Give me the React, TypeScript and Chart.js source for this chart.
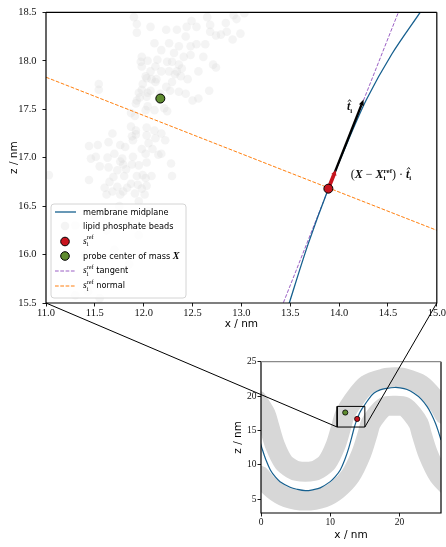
import React, { useEffect, useRef } from "react";
import { Chart, registerables } from "chart.js";
Chart.register(...registerables);

// ---------------- data ----------------
const MAIN_X_RANGE = [11.0, 15.0];
const MAIN_Y_RANGE = [15.5, 18.5];
const MAIN_X_TICKS = [11.0, 11.5, 12.0, 12.5, 13.0, 13.5, 14.0, 14.5, 15.0];
const MAIN_Y_TICKS = [15.5, 16.0, 16.5, 17.0, 17.5, 18.0, 18.5];
const INSET_X_RANGE = [0, 26];
const INSET_Y_RANGE = [3, 25];
const INSET_X_TICKS = [0, 10, 20];
const INSET_Y_TICKS = [5, 10, 15, 20, 25];

// lipid phosphate beads seen in the zoomed view (x, z in nm)
const BEADS = [
  [11.90,18.45],[11.93,18.38],[11.93,18.29],[11.98,18.04],[11.97,17.99],[11.98,17.94],[12.04,18.00],[12.03,17.82],
  [11.99,17.76],[11.98,17.70],[12.04,17.67],[11.54,17.76],[11.54,17.70],[11.93,17.59],[11.96,17.62],[12.03,17.63],
  [12.04,17.53],[11.87,17.46],[11.91,17.43],[11.87,17.32],[12.03,17.31],[11.68,17.25],[11.88,17.22],[11.92,17.24],
  [11.89,17.18],[11.64,17.16],[11.44,17.12],[11.53,17.13],[11.76,17.13],[11.81,17.11],[11.98,17.09],[11.70,17.04],
  [11.51,17.01],[11.46,16.99],[11.63,17.00],[11.78,16.99],[11.89,17.01],[12.02,17.04],[11.55,16.91],[11.64,16.90],
  [11.76,16.96],[11.79,16.93],[11.73,16.87],[11.82,16.88],[11.88,16.93],[11.95,16.92],[12.03,16.95],[12.09,17.09],
  [12.18,17.04],[12.28,16.94],[11.99,16.82],[12.02,16.79],[12.08,16.81],[11.93,16.81],[11.80,16.81],[11.69,16.80],
  [11.65,16.75],[11.60,16.69],[11.62,16.62],[11.68,16.65],[11.73,16.70],[11.79,16.65],[11.83,16.69],[11.87,16.73],
  [11.91,16.63],[11.94,16.72],[11.98,16.68],[12.03,16.71],[11.44,16.77],[11.03,16.82],[12.29,16.81],[11.76,16.62],
  [12.01,16.62],
  [12.07,18.35],[12.11,18.18],[12.23,18.32],[12.34,18.32],[12.44,18.35],[12.49,18.41],[12.54,18.35],[12.65,18.45],
  [12.68,18.37],[12.68,18.30],[12.74,18.26],[12.79,18.27],[12.84,18.39],[12.85,18.30],[12.91,18.22],[12.92,18.47],
  [12.95,18.43],[12.99,18.28],[13.03,18.49],[12.43,18.25],[12.48,18.15],[12.54,18.17],[12.63,18.17],[12.18,18.11],
  [12.26,18.18],[12.31,18.08],[12.36,18.15],[12.41,18.04],[12.48,18.06],[12.61,18.04],[12.29,17.99],[12.36,17.96],
  [12.39,17.92],[12.34,17.89],[12.24,17.99],[12.14,18.01],[12.12,17.94],[12.07,17.89],[12.18,17.89],[12.26,17.89],
  [12.32,17.86],[12.38,17.84],[12.45,17.81],[12.56,17.89],[12.71,17.96],[12.74,17.93],[12.02,17.84],[12.08,17.81],
  [12.13,17.81],[12.12,17.78],[12.23,17.73],[12.29,17.78],[12.07,17.69],[12.17,17.66],[12.27,17.69],[12.36,17.68],
  [12.43,17.66],[12.50,17.59],[12.56,17.61],[12.67,17.69],[11.95,17.67],[11.92,17.56],[12.02,17.49],[12.11,17.49],
  [12.21,17.51],[12.24,17.48],[11.92,17.28],[12.11,17.28],[12.18,17.25],[12.05,17.15],[12.03,17.23],[12.12,17.20],
  [12.22,17.18],[12.15,17.03],
  [11.30,15.58],[11.43,15.62],[11.55,15.55],[11.50,16.40],[11.62,16.25],[11.75,16.50],[11.85,16.35],[11.95,16.55],
  [11.70,16.05],[11.85,15.90],[11.60,15.80],[11.95,16.20],[12.05,16.45],[11.40,16.00],[11.30,16.30],
];

// membrane midplane in the zoomed window
const MIDPLANE_ZOOM = [
  [13.43,15.3],[13.49,15.5],[13.68,16.1],[13.89,16.68],[14.09,17.17],[14.28,17.6],[14.54,18.07],[14.83,18.5],[14.95,18.68],
];
// membrane midplane over the whole box
const MIDPLANE_FULL = [
  [-1.5,17.6],[-0.68,15.07],[-0.3,13.9],[0.14,12.4],[0.7,10.75],[1.35,9.26],[2.1,8.2],[2.75,7.56],[4.2,6.75],[5.17,6.45],
  [6.4,6.25],[7.6,6.4],[8.55,6.65],[10.0,7.56],[10.7,8.25],[11.45,9.26],[12.1,10.75],[12.66,12.4],[13.1,14.0],
  [13.49,15.5],[13.68,16.1],[13.89,16.68],[14.09,17.17],[14.28,17.6],[14.54,18.07],[14.83,18.5],[15.5,19.5],
  [16.28,20.4],[17.2,20.9],[18.2,21.13],[19.3,21.25],[20.1,21.2],[21.1,20.95],[22.1,20.4],[23.1,19.6],[24.0,18.46],
  [24.6,17.4],[25.2,16.05],[25.6,14.9],[26.0,13.6],[26.5,12.0],
];
// centre lines of the two phosphate leaflets (inset)
const UPPER_LEAFLET = [
  [-0.56,19.4],[0.68,17.34],[1.18,15.65],[2.03,12.83],[3.26,10.36],[4.49,9.4],[5.22,9.11],[6.4,9.0],[7.58,9.11],
  [8.31,9.4],[9.54,10.36],[10.77,12.83],[11.62,15.65],[12.12,17.34],[13.36,19.4],[15.29,21.66],[17.9,22.6],
  [19.3,22.75],[20.4,22.67],[23.09,21.66],[25.24,19.4],[26.5,17.34],[27.0,15.65],
];
const LOWER_LEAFLET = [
  [-2.59,14.47],[-1.65,11.54],[-0.12,8.41],[1.75,6.42],[3.73,5.25],[6.4,4.8],[9.07,5.25],[11.05,6.42],[12.92,8.41],
  [14.45,11.54],[15.39,14.47],[15.82,15.97],[16.68,17.27],[17.83,18.44],[19.3,18.6],[20.77,18.44],[21.92,17.27],
  [22.78,15.97],[23.21,14.47],[24.15,11.54],[25.68,8.41],[27.55,6.42],
];
const REF_POINT = [13.89, 16.68];
const PROBE_COM = [12.17, 17.61];
const TANGENT_LINE = [[13.35, 15.3], [14.685, 18.7]];
const NORMAL_LINE = [[11.0, 17.83], [15.0, 16.25]];
const TANGENT_TIP = [14.25, 17.6];
const PROJECTION_TIP = [13.965, 16.87];

// ---------------- style ----------------
const SERIF = '"Liberation Serif", "DejaVu Serif", serif';
const SANS = '"DejaVu Sans", sans-serif';
const BLUE = "#17608f";
const PURPLE = "#9a5fc4";
const ORANGE = "#ff7f0e";
const RED = "#c8141e";
const GREEN = "#5f8c30";
const BEAD = "rgba(211,211,211,0.24)";
const BAND = "rgb(215,215,215)";

const pts = (a: number[][]) => a.map(([x, y]) => ({ x, y }));

type Part = { t?: string; f: string; dy?: number; hat?: boolean; sup?: string; sub?: string; supDy?: number; subDy?: number };
function drawParts(ctx: CanvasRenderingContext2D, x: number, y: number, parts: Part[]) {
  ctx.textBaseline = "alphabetic";
  ctx.textAlign = "left";
  for (const p of parts) {
    ctx.font = p.f;
    if (p.sup !== undefined) {
      const w1 = ctx.measureText(p.sup).width;
      const w2 = ctx.measureText(p.sub || "").width;
      ctx.fillText(p.sup, x, y + (p.supDy || 0));
      ctx.fillText(p.sub || "", x, y + (p.subDy || 0));
      x += Math.max(w1, w2);
    } else {
      const t = p.t || "";
      const w = ctx.measureText(t).width;
      ctx.fillText(t, x, y + (p.dy || 0));
      if (p.hat) {
        ctx.save();
        ctx.lineWidth = 0.9;
        ctx.strokeStyle = ctx.fillStyle as string;
        ctx.beginPath();
        ctx.moveTo(x + w * 0.35, y - 8.5);
        ctx.lineTo(x + w * 0.65 + 0.5, y - 10.5);
        ctx.lineTo(x + w * 0.95 + 1, y - 8.5);
        ctx.stroke();
        ctx.restore();
      }
      x += w;
    }
  }
  return x;
}

function arrow(ctx: CanvasRenderingContext2D, x0: number, y0: number, x1: number, y1: number, color: string, w: number, hl: number, hw: number) {
  const a = Math.atan2(y1 - y0, x1 - x0);
  const bx = x1 - hl * Math.cos(a), by = y1 - hl * Math.sin(a);
  ctx.save();
  ctx.strokeStyle = color;
  ctx.fillStyle = color;
  ctx.lineWidth = w;
  ctx.lineCap = "butt";
  ctx.beginPath();
  ctx.moveTo(x0, y0);
  ctx.lineTo(bx, by);
  ctx.stroke();
  const px = (-Math.sin(a) * hw) / 2, py = (Math.cos(a) * hw) / 2;
  ctx.beginPath();
  ctx.moveTo(x1, y1);
  ctx.lineTo(bx + px, by + py);
  ctx.lineTo(bx - px, by - py);
  ctx.closePath();
  ctx.fill();
  ctx.restore();
}

function drawFrame(chart: any, topColor: string, lw: number) {
  const { ctx, chartArea: ca } = chart;
  ctx.save();
  ctx.lineWidth = lw;
  ctx.strokeStyle = "#000";
  ctx.beginPath();
  ctx.moveTo(ca.left, ca.top);
  ctx.lineTo(ca.left, ca.bottom);
  ctx.lineTo(ca.right, ca.bottom);
  ctx.lineTo(ca.right, ca.top);
  ctx.stroke();
  ctx.strokeStyle = topColor;
  ctx.beginPath();
  ctx.moveTo(ca.left, ca.top);
  ctx.lineTo(ca.right, ca.top);
  ctx.stroke();
  ctx.restore();
}

const sRef = (size: number): Part[] => [
  { t: "s", f: `italic ${size}px ${SERIF}` },
  { sup: "ref", sub: "i", f: `${size * 0.66}px ${SERIF}`, supDy: -4.2, subDy: 2.6 },
];

function drawLegend(chart: any) {
  const { ctx, chartArea: ca } = chart;
  const W = 135, H = 94;
  const L = ca.left + 5, T = ca.bottom - 5 - H;
  ctx.save();
  const r = 3;
  ctx.beginPath();
  ctx.moveTo(L + r, T);
  ctx.lineTo(L + W - r, T);
  ctx.quadraticCurveTo(L + W, T, L + W, T + r);
  ctx.lineTo(L + W, T + H - r);
  ctx.quadraticCurveTo(L + W, T + H, L + W - r, T + H);
  ctx.lineTo(L + r, T + H);
  ctx.quadraticCurveTo(L, T + H, L, T + H - r);
  ctx.lineTo(L, T + r);
  ctx.quadraticCurveTo(L, T, L + r, T);
  ctx.closePath();
  ctx.fillStyle = "rgba(255,255,255,0.8)";
  ctx.fill();
  ctx.strokeStyle = "#d4d4d4";
  ctx.lineWidth = 1;
  ctx.stroke();

  const rows = [8, 22, 37.5, 52, 67, 82];
  const lx0 = L + 4, lx1 = L + 25, mx = L + 14, tx = L + 32;
  const sans = `8.2px ${SANS}`;
  const line = (y: number, color: string, dash: number[], w: number) => {
    ctx.save();
    ctx.strokeStyle = color;
    ctx.lineWidth = w;
    ctx.setLineDash(dash);
    ctx.beginPath();
    ctx.moveTo(lx0, y);
    ctx.lineTo(lx1, y);
    ctx.stroke();
    ctx.restore();
  };
  const dot = (y: number, fill: string, stroke: boolean) => {
    ctx.save();
    ctx.beginPath();
    ctx.arc(mx, y, 4.3, 0, Math.PI * 2);
    ctx.fillStyle = fill;
    ctx.fill();
    if (stroke) {
      ctx.strokeStyle = "#000";
      ctx.lineWidth = 1;
      ctx.stroke();
    }
    ctx.restore();
  };
  ctx.fillStyle = "#000";
  line(T + rows[0], BLUE, [], 1.3);
  drawParts(ctx, tx, T + rows[0] + 3, [{ t: "membrane midplane", f: sans }]);
  dot(T + rows[1], BEAD, false);
  ctx.fillStyle = "#000";
  drawParts(ctx, tx, T + rows[1] + 3, [{ t: "lipid phosphate beads", f: sans }]);
  dot(T + rows[2], RED, true);
  ctx.fillStyle = "#000";
  drawParts(ctx, tx, T + rows[2] + 2, sRef(9.5));
  dot(T + rows[3], GREEN, true);
  ctx.fillStyle = "#000";
  drawParts(ctx, tx, T + rows[3] + 3, [
    { t: "probe center of mass ", f: sans },
    { t: "X", f: `italic bold 10px ${SERIF}` },
  ]);
  line(T + rows[4], PURPLE, [3.7, 1.6], 1);
  ctx.fillStyle = "#000";
  drawParts(ctx, tx, T + rows[4] + 2, [...sRef(9.5), { t: " tangent", f: sans }]);
  line(T + rows[5], ORANGE, [3.7, 1.6], 1);
  ctx.fillStyle = "#000";
  drawParts(ctx, tx, T + rows[5] + 2, [...sRef(9.5), { t: " normal", f: sans }]);
  ctx.restore();
}

function drawAnnotations(chart: any) {
  const { ctx, scales } = chart;
  const X = (v: number) => scales.x.getPixelForValue(v);
  const Y = (v: number) => scales.y.getPixelForValue(v);
  ctx.save();
  ctx.fillStyle = "#111";
  const bi = `italic bold 12px ${SERIF}`;
  const rm = `12px ${SERIF}`;
  drawParts(ctx, X(14.08), Y(17.49), [
    { t: "t", f: bi, hat: true },
    { t: "i", f: `bold 7px ${SERIF}`, dy: 2.5 },
  ]);
  drawParts(ctx, X(14.12), Y(16.79), [
    { t: "(", f: rm },
    { t: "X", f: bi },
    { t: " \u2212 ", f: rm },
    { t: "X", f: bi },
    { sup: "ref", sub: "i", f: `bold 7px ${SERIF}`, supDy: -5, subDy: 2.5 },
    { t: ")", f: rm },
    { t: " \u00b7 ", f: rm },
    { t: "t", f: bi, hat: true },
    { t: "i", f: `bold 7px ${SERIF}`, dy: 2.5 },
  ]);
  ctx.restore();
}

const INSET_LEFT = 230;
const INSET_TOP = 340;

export default function App() {
  const mainRef = useRef<HTMLCanvasElement>(null);
  const insetRef = useRef<HTMLCanvasElement>(null);
  const overRef = useRef<HTMLCanvasElement>(null);

  useEffect(() => {
    const tickFont = (size: number) => ({ family: SERIF, size });
    const titleFont = { family: SANS, size: 10.5 };

    const mainDeco = {
      id: "mainDeco",
      afterDatasetDraw(chart: any, args: any) {
        if (args.index !== 2) return;
        const { ctx, scales } = chart;
        const X = (v: number) => scales.x.getPixelForValue(v);
        const Y = (v: number) => scales.y.getPixelForValue(v);
        arrow(ctx, X(REF_POINT[0]), Y(REF_POINT[1]), X(TANGENT_TIP[0]), Y(TANGENT_TIP[1]), "#000", 2.4, 6, 5);
        arrow(ctx, X(REF_POINT[0]), Y(REF_POINT[1]), X(PROJECTION_TIP[0]), Y(PROJECTION_TIP[1]), RED, 3.8, 5, 5.5);
      },
      afterDatasetsDraw(chart: any) {
        drawFrame(chart, "#000", 1.2);
      },
      afterDraw(chart: any) {
        drawAnnotations(chart);
        drawLegend(chart);
      },
    };

    const main = new Chart(mainRef.current as HTMLCanvasElement, {
      type: "scatter",
      data: {
        datasets: [
          { label: "probe", data: pts([PROBE_COM]), pointRadius: 4.5, backgroundColor: GREEN, borderColor: "#000", borderWidth: 1 },
          { label: "ref", data: pts([REF_POINT]), pointRadius: 4.5, backgroundColor: RED, borderColor: "#000", borderWidth: 1 },
          { label: "midplane", data: pts(MIDPLANE_ZOOM), showLine: true, pointRadius: 0, borderColor: BLUE, borderWidth: 1.3, tension: 0.3 },
          { label: "tangent", data: pts(TANGENT_LINE), showLine: true, pointRadius: 0, borderColor: PURPLE, borderWidth: 1, borderDash: [3.7, 1.6] },
          { label: "normal", data: pts(NORMAL_LINE), showLine: true, pointRadius: 0, borderColor: ORANGE, borderWidth: 1, borderDash: [3.7, 1.6] },
          { label: "beads", data: pts(BEADS), pointRadius: 4.3, backgroundColor: BEAD, borderWidth: 0 },
        ] as any,
      },
      options: {
        responsive: false,
        animation: false,
        events: [],
        layout: { autoPadding: false, padding: { left: 0, top: 7, right: 5, bottom: 0 } } as any,
        plugins: { legend: { display: false }, tooltip: { enabled: false } },
        scales: {
          x: {
            type: "linear",
            min: MAIN_X_RANGE[0],
            max: MAIN_X_RANGE[1],
            afterBuildTicks: (s: any) => { s.ticks = MAIN_X_TICKS.map((v) => ({ value: v })); },
            afterFit: (s: any) => { s.height = 32; },
            ticks: { font: tickFont(10.5), color: "#111", padding: 0, maxRotation: 0, autoSkip: false, callback: (v: any) => Number(v).toFixed(1) },
            grid: { drawOnChartArea: false, drawTicks: true, tickLength: 3.5, color: "#000", tickWidth: 0.9 },
            border: { display: false },
            title: { display: true, text: "x / nm", font: titleFont, color: "#000", padding: { top: 0, bottom: 4 } },
          },
          y: {
            type: "linear",
            min: MAIN_Y_RANGE[0],
            max: MAIN_Y_RANGE[1],
            afterBuildTicks: (s: any) => { s.ticks = MAIN_Y_TICKS.map((v) => ({ value: v })); },
            afterFit: (s: any) => { s.width = 46; },
            ticks: { font: tickFont(10.5), color: "#111", padding: 6, autoSkip: false, callback: (v: any) => Number(v).toFixed(1) },
            grid: { drawOnChartArea: false, drawTicks: true, tickLength: 3.5, color: "#000", tickWidth: 0.9 },
            border: { display: false },
            title: { display: true, text: "z / nm", font: titleFont, color: "#000", padding: { top: 8, bottom: 0 } },
          },
        } as any,
      },
      plugins: [mainDeco],
    });

    const boxData = [
      [MAIN_X_RANGE[0], MAIN_Y_RANGE[0]],
      [MAIN_X_RANGE[1], MAIN_Y_RANGE[0]],
      [MAIN_X_RANGE[1], MAIN_Y_RANGE[1]],
      [MAIN_X_RANGE[0], MAIN_Y_RANGE[1]],
      [MAIN_X_RANGE[0], MAIN_Y_RANGE[0]],
    ];

    const insetDeco = {
      id: "insetDeco",
      afterDatasetsDraw(chart: any) {
        drawFrame(chart, "#8a8a8a", 1.2);
      },
    };

    const inset = new Chart(insetRef.current as HTMLCanvasElement, {
      type: "scatter",
      data: {
        datasets: [
          { label: "probe", data: pts([PROBE_COM]), pointRadius: 2.6, backgroundColor: GREEN, borderColor: "#000", borderWidth: 0.8 },
          { label: "ref", data: pts([REF_POINT]), pointRadius: 2.6, backgroundColor: RED, borderColor: "#000", borderWidth: 0.8 },
          { label: "box", data: pts(boxData), showLine: true, pointRadius: 0, borderColor: "#000", borderWidth: 1, tension: 0 },
          { label: "midplane", data: pts(MIDPLANE_FULL), showLine: true, pointRadius: 0, borderColor: BLUE, borderWidth: 1.2, tension: 0.35 },
          { label: "upper", data: pts(UPPER_LEAFLET), showLine: true, pointRadius: 0, borderColor: BAND, borderWidth: 20, tension: 0.3, borderCapStyle: "round", borderJoinStyle: "round" },
          { label: "lower", data: pts(LOWER_LEAFLET), showLine: true, pointRadius: 0, borderColor: BAND, borderWidth: 20, tension: 0.3, borderCapStyle: "round", borderJoinStyle: "round" },
        ] as any,
      },
      options: {
        responsive: false,
        animation: false,
        events: [],
        layout: { autoPadding: false, padding: { left: 0, top: 21.7, right: 5, bottom: 0 } } as any,
        plugins: { legend: { display: false }, tooltip: { enabled: false } },
        scales: {
          x: {
            type: "linear",
            min: INSET_X_RANGE[0],
            max: INSET_X_RANGE[1],
            afterBuildTicks: (s: any) => { s.ticks = INSET_X_TICKS.map((v) => ({ value: v })); },
            afterFit: (s: any) => { s.height = 34; },
            ticks: { font: tickFont(9.5), color: "#111", padding: 0.5, maxRotation: 0, autoSkip: false, callback: (v: any) => String(v) },
            grid: { drawOnChartArea: false, drawTicks: true, tickLength: 3.5, color: "#000", tickWidth: 0.9 },
            border: { display: false },
            title: { display: true, text: "x / nm", font: titleFont, color: "#000", padding: { top: 0, bottom: 5 } },
          },
          y: {
            type: "linear",
            min: INSET_Y_RANGE[0],
            max: INSET_Y_RANGE[1],
            afterBuildTicks: (s: any) => { s.ticks = INSET_Y_TICKS.map((v) => ({ value: v })); },
            afterFit: (s: any) => { s.width = 31; },
            ticks: { font: tickFont(9.5), color: "#111", padding: 1, autoSkip: false, callback: (v: any) => String(v) },
            grid: { drawOnChartArea: false, drawTicks: true, tickLength: 3.5, color: "#000", tickWidth: 0.9 },
            border: { display: false },
            title: { display: true, text: "z / nm", font: titleFont, color: "#000", padding: { top: 2, bottom: 0 } },
          },
        } as any,
      },
      plugins: [insetDeco],
    });

    // connector lines (zoom indicator)
    const oc = overRef.current as HTMLCanvasElement;
    const octx = oc.getContext("2d") as CanvasRenderingContext2D;
    octx.clearRect(0, 0, oc.width, oc.height);
    const ca = main.chartArea;
    const ix = (inset as any).scales.x, iy = (inset as any).scales.y;
    octx.strokeStyle = "#000";
    octx.lineWidth = 1;
    octx.beginPath();
    octx.moveTo(ca.left, ca.bottom);
    octx.lineTo(INSET_LEFT + ix.getPixelForValue(MAIN_X_RANGE[0]), INSET_TOP + iy.getPixelForValue(MAIN_Y_RANGE[0]));
    octx.moveTo(ca.right, ca.bottom);
    octx.lineTo(INSET_LEFT + ix.getPixelForValue(MAIN_X_RANGE[1]), INSET_TOP + iy.getPixelForValue(MAIN_Y_RANGE[0]));
    octx.stroke();

    return () => {
      main.destroy();
      inset.destroy();
    };
  }, []);

  return (
    <div style={{ position: "absolute", left: 0, top: 0, width: 446, height: 547, background: "#fff", overflow: "hidden" }}>
      <canvas ref={mainRef} width={446} height={335} style={{ position: "absolute", left: 0, top: 0, width: 446, height: 335 }} />
      <canvas ref={insetRef} width={216} height={207} style={{ position: "absolute", left: INSET_LEFT, top: INSET_TOP, width: 216, height: 207 }} />
      <canvas ref={overRef} width={446} height={547} style={{ position: "absolute", left: 0, top: 0, width: 446, height: 547, pointerEvents: "none" }} />
    </div>
  );
}
